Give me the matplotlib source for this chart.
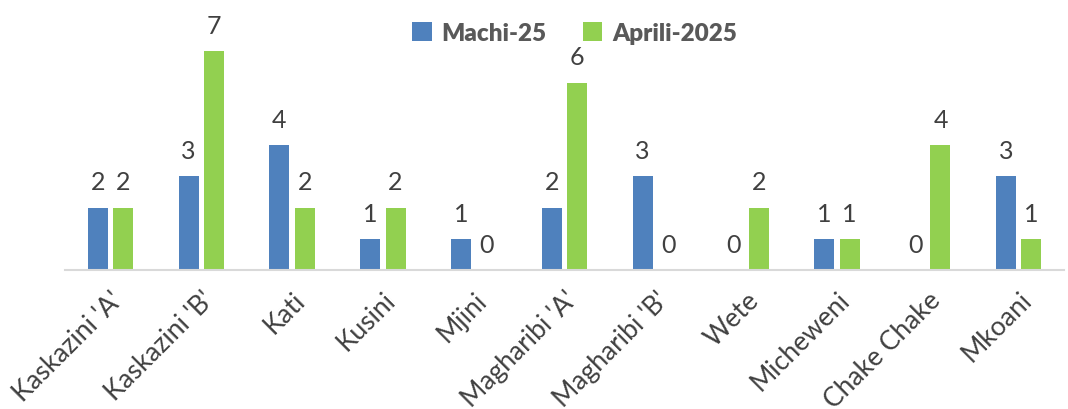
import numpy as np
import matplotlib.pyplot as plt

# data
districts = ["Kaskazini 'A'", "Kaskazini 'B'", "Kati", "Kusini", "Mjini", "Magharibi 'A'",
             "Magharibi 'B'", "Wete", "Micheweni", "Chake Chake", "Mkoani"]
machi = [2, 3, 4, 1, 1, 2, 3, 0, 1, 0, 3]
aprili = [2, 7, 2, 2, 0, 6, 0, 2, 1, 4, 1]

plt.rcParams['font.family'] = ['Lato', 'DejaVu Sans']

fig = plt.figure(figsize=(10.68, 4.10), dpi=100)
ax = fig.add_axes([65 / 1068, (410 - 271) / 410, (1064 - 65) / 1068, 250 / 410])

x = np.arange(len(districts))
w = 0.22
off = 0.14
b1 = ax.bar(x - off, machi, w, color='#4F81BD', label='Machi-25')
b2 = ax.bar(x + off, aprili, w, color='#92D050', label='Aprili-2025')

for bars in (b1, b2):
    for r in bars:
        h = r.get_height()
        ax.text(r.get_x() + r.get_width() / 2, h + 0.45, f'{int(h)}',
                ha='center', va='bottom', fontsize=18, color='#404040')

ax.set_xlim(-0.5, len(districts) - 0.5)
ax.set_ylim(0, 8)
ax.set_yticks([])
ax.set_xticks(x)
ax.set_xticklabels(districts, rotation=45, ha='right', rotation_mode='anchor',
                   fontsize=19, color='#404040')
ax.tick_params(axis='x', length=0, pad=12)
for s in ['top', 'right', 'left']:
    ax.spines[s].set_visible(False)
ax.spines['bottom'].set_color('#D9D9D9')
ax.spines['bottom'].set_linewidth(1.5)

leg = ax.legend(loc='upper center', bbox_to_anchor=(0.51, 1.08), ncol=2, frameon=False,
                handlelength=0.8, handleheight=0.8, columnspacing=1.5, handletextpad=0.4,
                prop={'size': 17.5, 'weight': 'heavy'})
for t in leg.get_texts():
    t.set_color('#595959')

fig.savefig('out.png', dpi=100)
